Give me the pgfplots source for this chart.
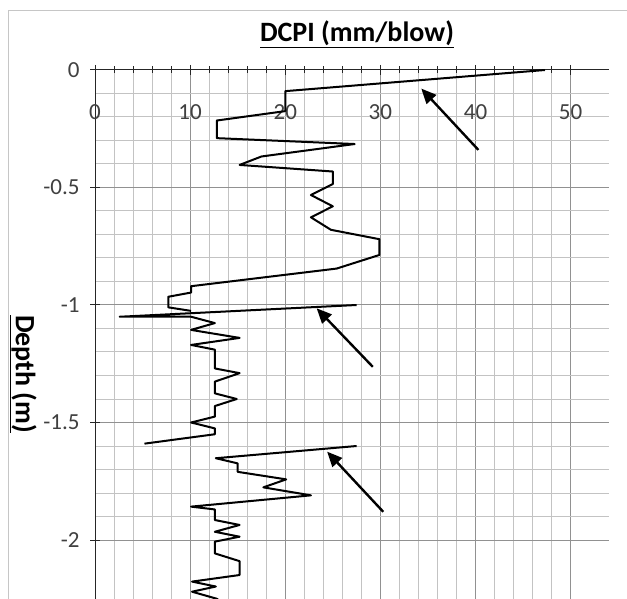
\documentclass[border=0pt]{standalone}
\usepackage{fontspec}
\setmainfont{Carlito}
\usepackage{pgfplots}
\pgfplotsset{compat=1.18}
\usetikzlibrary{arrows.meta}
\definecolor{gridmaj}{RGB}{145,145,145}
\definecolor{gridmin}{RGB}{195,195,195}
\begin{document}
\begin{tikzpicture}
\useasboundingbox (0,0) rectangle (627pt,-599pt);
\clip (0,0) rectangle (627pt,-599pt);
\fill[white] (0,0) rectangle (627pt,-599pt);
\draw[gray!45, line width=1pt] (8pt,-11pt) rectangle (700pt,-700pt);
\node[font=\bfseries\fontsize{28}{32}\selectfont] at (357pt,-34pt) {\underline{DCPI (mm/blow)}};
\node[font=\bfseries\fontsize{28}{32}\selectfont, rotate=-90] at (23pt,-374pt) {\underline{Depth (m)}};
\begin{axis}[
  at={(95pt,-70pt)}, anchor=north west,
  scale only axis, width=513.7pt, height=528.75pt,
  xmin=0, xmax=54, ymin=-2.25, ymax=0,
  axis x line*=top, axis y line*=left,
  axis line style={black!85, line width=1pt},
  xtick={0,10,20,30,40,50},
  minor x tick num=4,
  ytick={0,-0.5,-1,-1.5,-2},
  minor y tick num=4,
  tick align=center,
  major tick length=10pt, minor tick length=7pt,
  every tick/.style={black!85, line width=1pt},
  minor y tick style={draw=none},
  grid=both,
  major grid style={gridmaj, line width=1pt},
  minor grid style={gridmin, line width=1pt},
  /pgf/number format/assume math mode=true,
  tick label style={font=\fontsize{23}{27}\selectfont, text=black!75},
  xticklabel style={anchor=center, yshift=-47pt},
  yticklabel style={xshift=-7pt},
  clip=true,
]
\addplot[black, line width=2pt, line join=round] coordinates {
(47.3,0) (20,-0.09) (20,-0.175) (12.8,-0.215) (12.8,-0.29) (27.3,-0.315)
(17.5,-0.368) (15.2,-0.404) (25,-0.432) (25,-0.485) (22.7,-0.532) (25,-0.58)
(22.7,-0.627) (24.8,-0.68) (29.9,-0.72) (29.9,-0.787) (25.4,-0.845) (10.1,-0.92)
(10.1,-0.947) (7.7,-0.965) (7.7,-1.01) (10.1,-1.025)
};
\addplot[black, line width=2pt, line join=round] coordinates {
(27.5,-1.0) (2.6,-1.05) (10.1,-1.05) (12.6,-1.077) (10.1,-1.106) (15.2,-1.14)
(10.1,-1.17) (12.6,-1.19) (12.6,-1.27) (15.2,-1.29) (12.6,-1.326) (12.6,-1.376)
(14.9,-1.40) (12.6,-1.43) (12.6,-1.475) (10.1,-1.50) (12.6,-1.525) (12.6,-1.55)
(5.2,-1.59)
};
\addplot[black, line width=2pt, line join=round] coordinates {
(27.5,-1.6) (12.7,-1.652) (15.0,-1.674) (15.0,-1.71) (20.1,-1.742) (17.7,-1.776)
(22.7,-1.81) (10.1,-1.858) (12.6,-1.87) (12.6,-1.915) (15.2,-1.936) (12.6,-1.965)
(15.2,-1.986) (12.6,-2.007) (12.6,-2.057) (15.2,-2.09) (15.2,-2.149) (10.2,-2.177)
(12.7,-2.198) (10.2,-2.22) (12.8,-2.25) (13.5,-2.27)
};
\draw[black, line width=2.4pt, -{Triangle[length=15pt,width=13pt]}] (axis cs:40.3,-0.34) -- (axis cs:34.3,-0.079);
\draw[black, line width=2.4pt, -{Triangle[length=15pt,width=13pt]}] (axis cs:29.2,-1.263) -- (axis cs:23.3,-1.014);
\draw[black, line width=2.4pt, -{Triangle[length=15pt,width=13pt]}] (axis cs:30.3,-1.88) -- (axis cs:24.4,-1.624);
\end{axis}
\end{tikzpicture}
\end{document}
